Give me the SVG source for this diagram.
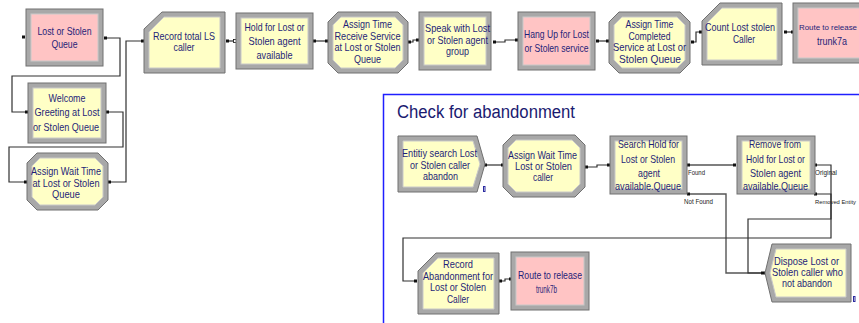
<svg xmlns="http://www.w3.org/2000/svg" width="859" height="323" viewBox="0 0 859 323">
  <style>
    .bevel { fill: #a8a8a8; stroke: #707070; stroke-width: 1; }
    .yel { fill: #ffffc6; stroke: #c9c9c9; stroke-width: 1; }
    .pink { fill: #ffc4c4; stroke: #c9c9c9; stroke-width: 1; }
    .lbl { font-family: "Liberation Sans", Arial, sans-serif; font-size: 10.5px; fill: #1e1e78; text-anchor: middle; }
    .port-lbl { font-family: "Liberation Sans", Arial, sans-serif; font-size: 7px; fill: #222; }
    .title { font-family: "Liberation Sans", Arial, sans-serif; font-size: 18px; fill: #1a1a70; }
    .wire { fill: none; stroke: #303030; stroke-width: 1.2; }
    .wire2 { fill: none; stroke: #555; stroke-width: 1.4; }
    .port { fill: #111; }
    .cnt { fill: none; stroke: #2a2aa0; stroke-width: 1; }
  </style>

  <!-- submodel frame -->
  <g id="frame-check">
    <rect x="383.5" y="94.5" width="490" height="240" fill="none" stroke="#1f1fff" stroke-width="1.5"/>
    <text class="title" x="397" y="118" textLength="178" lengthAdjust="spacingAndGlyphs">Check for abandonment</text>
  </g>

  <!-- connectors -->
  <g id="connectors">
    <polyline class="wire" points="105,38 120,38 120,76 12,76 12,112 27,112"/>
    <polyline class="wire" points="107,112 123,112 123,147 9,147 9,182 26,182"/>
    <polyline class="wire" points="109,182 126,182 126,41 143,41"/>
    <polyline class="wire" points="227,41 235,41"/>
    <polyline class="wire" points="315,41 326,41"/>
    <polyline class="wire" points="409,42 413,42 413,40 418,40"/>
    <polyline class="wire" points="493,42 505,42 505,40 516,40"/>
    <polyline class="wire" points="597,41 607,41"/>
    <polyline class="wire" points="692,42 696,42 696,32 701,32"/>
    <polyline class="wire" points="784,32 792,32"/>

    <polyline class="wire" points="485,165 502,165"/>
    <polyline class="wire" points="586,167 597,167 597,165 609,165"/>
    <polyline class="wire2" points="688,165 735,165"/>
    <polyline class="wire2" points="688,194 726,194 726,273 763,273"/>
    <polyline class="wire" points="816,165 831,165 831,219 748,219 748,273 763,273"/>
    <polyline class="wire" points="816,194 831,194 831,238 403,238 403,281 416,281"/>
    <polyline class="wire" points="500,281 505,281 505,279 510,279"/>

    <!-- ports -->
    <rect class="port" x="22" y="35.5" width="3" height="3"/>
    <rect class="port" x="104" y="36.5" width="3" height="3"/>
    <rect class="port" x="25" y="110.5" width="3" height="3"/>
    <rect class="port" x="106" y="110.5" width="3" height="3"/>
    <rect class="port" x="24" y="180.5" width="3" height="3"/>
    <rect class="port" x="108" y="180.5" width="3" height="3"/>
    <rect class="port" x="141" y="39.5" width="3" height="3"/>
    <rect class="port" x="226" y="39.5" width="3" height="3"/>
    <rect x="233.5" y="39.5" width="3" height="3" fill="#fff" stroke="#111" stroke-width="0.8"/>
    <rect class="port" x="313" y="39.5" width="3" height="3"/>
    <rect class="port" x="325" y="39.5" width="3" height="3"/>
    <rect class="port" x="408" y="40.5" width="3" height="3"/>
    <rect class="port" x="416" y="38.5" width="3" height="3"/>
    <rect class="port" x="493" y="40.5" width="3" height="3"/>
    <rect class="port" x="515" y="38.5" width="3" height="3"/>
    <rect class="port" x="596" y="39.5" width="3" height="3"/>
    <rect class="port" x="606" y="39.5" width="3" height="3"/>
    <rect class="port" x="691" y="40.5" width="3" height="3"/>
    <rect class="port" x="699" y="30.5" width="3" height="3"/>
    <rect class="port" x="784" y="30.5" width="3" height="3"/>
    <rect class="port" x="791" y="30.5" width="3" height="3"/>

    <rect class="port" x="484" y="163.5" width="3" height="3"/>
    <rect class="port" x="501" y="163.5" width="3" height="3"/>
    <rect class="port" x="585" y="165.5" width="3" height="3"/>
    <rect class="port" x="607" y="163.5" width="3" height="3"/>
    <rect class="port" x="687" y="163.5" width="3" height="3"/>
    <rect class="port" x="733" y="163.5" width="3" height="3"/>
    <rect class="port" x="687" y="192.5" width="3" height="3"/>
    <rect class="port" x="814" y="163.5" width="3" height="3"/>
    <rect class="port" x="814" y="192.5" width="3" height="3"/>
    <rect class="port" x="761" y="271.5" width="4" height="3"/>
    <rect class="port" x="414" y="279.5" width="3" height="3"/>
    <rect class="port" x="499" y="279.5" width="3" height="3"/>
    <rect class="port" x="509" y="277.5" width="3" height="3"/>

    <text class="port-lbl" x="688" y="175" textLength="17" lengthAdjust="spacingAndGlyphs">Found</text>
    <text class="port-lbl" x="684" y="204" textLength="29" lengthAdjust="spacingAndGlyphs">Not Found</text>
    <text class="port-lbl" x="815" y="175" textLength="22" lengthAdjust="spacingAndGlyphs">Original</text>
    <text class="port-lbl" x="815" y="204" style="font-size:6px" textLength="41" lengthAdjust="spacingAndGlyphs">Removed Entity</text>
  </g>

  <!-- main flow -->
  <g id="lost-stolen-queue">
    <rect class="bevel" x="26" y="9" width="77" height="57"/>
    <rect class="pink" x="31" y="14" width="67" height="47"/>
    <text class="lbl" x="64.5" y="35" textLength="54" lengthAdjust="spacingAndGlyphs">Lost or Stolen</text>
    <text class="lbl" x="64.5" y="48" textLength="26" lengthAdjust="spacingAndGlyphs">Queue</text>
  </g>

  <g id="welcome-greeting">
    <rect class="bevel" x="28" y="83" width="78" height="60"/>
    <rect class="yel" x="33" y="88" width="68" height="50"/>
    <text class="lbl" x="67" y="102" textLength="37" lengthAdjust="spacingAndGlyphs">Welcome</text>
    <text class="lbl" x="67" y="116" textLength="65" lengthAdjust="spacingAndGlyphs">Greeting  at Lost</text>
    <text class="lbl" x="66" y="131" textLength="66" lengthAdjust="spacingAndGlyphs">or Stolen Queue</text>
  </g>

  <g id="assign-wait-time">
    <polygon class="bevel" points="37,153 98,153 108,163 108,200 98,210 37,210 27,200 27,163"/>
    <polygon class="yel" points="40,158 95,158 103,166 103,197 95,205 40,205 32,197 32,166"/>
    <text class="lbl" x="66" y="175" textLength="70" lengthAdjust="spacingAndGlyphs">Assign Wait Time</text>
    <text class="lbl" x="66" y="187" textLength="67" lengthAdjust="spacingAndGlyphs">at Lost or Stolen</text>
    <text class="lbl" x="66" y="198" textLength="28" lengthAdjust="spacingAndGlyphs">Queue</text>
  </g>

  <g id="record-total-ls">
    <polygon class="bevel" points="162,12 225,12 225,73 144,73 144,29"/>
    <polygon class="yel" points="164,17 220,17 220,68 149,68 149,32"/>
    <text class="lbl" x="184" y="40" textLength="62" lengthAdjust="spacingAndGlyphs">Record total LS</text>
    <text class="lbl" x="184" y="51" textLength="21" lengthAdjust="spacingAndGlyphs">caller</text>
  </g>

  <g id="hold-lost-stolen">
    <rect class="bevel" x="236" y="13" width="77" height="56"/>
    <rect class="yel" x="241" y="18" width="67" height="46"/>
    <text class="lbl" x="274.5" y="31" textLength="60" lengthAdjust="spacingAndGlyphs">Hold for Lost or</text>
    <text class="lbl" x="274.5" y="45" textLength="52" lengthAdjust="spacingAndGlyphs">Stolen agent</text>
    <text class="lbl" x="274.5" y="59" textLength="36" lengthAdjust="spacingAndGlyphs">available</text>
  </g>

  <g id="assign-time-receive">
    <polygon class="bevel" points="338,12 398,12 408,22 408,63 398,73 338,73 328,63 328,22"/>
    <polygon class="yel" points="341,17 395,17 403,25 403,60 395,68 341,68 333,60 333,25"/>
    <text class="lbl" x="367.5" y="28" textLength="49" lengthAdjust="spacingAndGlyphs">Assign Time</text>
    <text class="lbl" x="367.5" y="40" textLength="66" lengthAdjust="spacingAndGlyphs">Receive Service</text>
    <text class="lbl" x="367.5" y="51" textLength="66" lengthAdjust="spacingAndGlyphs">at Lost or Stolen</text>
    <text class="lbl" x="367.5" y="63" textLength="27" lengthAdjust="spacingAndGlyphs">Queue</text>
  </g>

  <g id="speak-agent">
    <rect class="bevel" x="419" y="12" width="72" height="58"/>
    <rect class="yel" x="424" y="17" width="62" height="48"/>
    <text class="lbl" x="457.5" y="32" textLength="65" lengthAdjust="spacingAndGlyphs">Speak with Lost</text>
    <text class="lbl" x="457.5" y="44" textLength="61" lengthAdjust="spacingAndGlyphs">or Stolen agent</text>
    <text class="lbl" x="457.5" y="55" textLength="23" lengthAdjust="spacingAndGlyphs">group</text>
  </g>

  <g id="hang-up">
    <rect class="bevel" x="518" y="12" width="77" height="58"/>
    <rect class="pink" x="523" y="17" width="67" height="48"/>
    <text class="lbl" x="556.5" y="38" textLength="65" lengthAdjust="spacingAndGlyphs">Hang Up for Lost</text>
    <text class="lbl" x="556.5" y="52" textLength="64" lengthAdjust="spacingAndGlyphs">or Stolen service</text>
  </g>

  <g id="assign-time-completed">
    <polygon class="bevel" points="619,12 680,12 690,22 690,63 680,73 619,73 609,63 609,22"/>
    <polygon class="yel" points="622,17 677,17 685,25 685,60 677,68 622,68 614,60 614,25"/>
    <text class="lbl" x="649.5" y="28" textLength="48" lengthAdjust="spacingAndGlyphs">Assign Time</text>
    <text class="lbl" x="649.5" y="40" textLength="42" lengthAdjust="spacingAndGlyphs">Completed</text>
    <text class="lbl" x="649.5" y="51" textLength="73" lengthAdjust="spacingAndGlyphs">Service at Lost or</text>
    <text class="lbl" x="650" y="63" textLength="62" lengthAdjust="spacingAndGlyphs">Stolen Queue</text>
  </g>

  <g id="count-lost-stolen">
    <polygon class="bevel" points="720,3 782,3 782,65 702,65 702,21"/>
    <polygon class="yel" points="722,8 777,8 777,60 707,60 707,23"/>
    <text class="lbl" x="740" y="31" textLength="70" lengthAdjust="spacingAndGlyphs">Count Lost stolen</text>
    <text class="lbl" x="744" y="43" textLength="22" lengthAdjust="spacingAndGlyphs">Caller</text>
  </g>

  <g id="route-trunk7a">
    <rect class="bevel" x="793" y="3" width="78" height="60"/>
    <rect class="pink" x="798" y="8" width="68" height="50"/>
    <text class="lbl" x="828" y="30" style="font-size:8px" textLength="58" lengthAdjust="spacingAndGlyphs">Route to release</text>
    <text class="lbl" x="832" y="45" textLength="30" lengthAdjust="spacingAndGlyphs">trunk7a</text>
  </g>

  <!-- abandonment check -->
  <g id="entity-search">
    <polygon class="bevel" points="398,136 477,136 485,164 477,192 398,192"/>
    <polygon class="yel" points="403,141 473,141 480,164 473,187 403,187"/>
    <text class="lbl" x="439.5" y="157" textLength="75" lengthAdjust="spacingAndGlyphs">Entitiy search Lost</text>
    <text class="lbl" x="440" y="169" textLength="60" lengthAdjust="spacingAndGlyphs">or Stolen caller</text>
    <text class="lbl" x="440.5" y="180" textLength="35" lengthAdjust="spacingAndGlyphs">abandon</text>
    <rect class="cnt" x="483.5" y="186.5" width="1.5" height="5"/>
  </g>

  <g id="assign-wait-caller">
    <polygon class="bevel" points="513,135 575,135 585,145 585,187 575,197 513,197 503,187 503,145"/>
    <polygon class="yel" points="516,140 572,140 580,148 580,184 572,192 516,192 508,184 508,148"/>
    <text class="lbl" x="542.5" y="159" textLength="69" lengthAdjust="spacingAndGlyphs">Assign Wait Time</text>
    <text class="lbl" x="543.5" y="170" textLength="57" lengthAdjust="spacingAndGlyphs">Lost or Stolen</text>
    <text class="lbl" x="543" y="181" textLength="20" lengthAdjust="spacingAndGlyphs">caller</text>
  </g>

  <g id="search-hold">
    <rect class="bevel" x="610" y="136" width="77" height="58"/>
    <rect class="yel" x="615" y="141" width="67" height="48"/>
    <text class="lbl" x="648.5" y="148" textLength="61" lengthAdjust="spacingAndGlyphs">Search Hold for</text>
    <text class="lbl" x="648" y="163" textLength="54" lengthAdjust="spacingAndGlyphs">Lost or Stolen</text>
    <text class="lbl" x="649" y="177" textLength="22" lengthAdjust="spacingAndGlyphs">agent</text>
    <text class="lbl" x="648" y="190" textLength="66" lengthAdjust="spacingAndGlyphs">available.Queue</text>
  </g>

  <g id="remove-from-hold">
    <rect class="bevel" x="737" y="136" width="78" height="58"/>
    <rect class="yel" x="742" y="141" width="68" height="48"/>
    <text class="lbl" x="775" y="148" textLength="52" lengthAdjust="spacingAndGlyphs">Remove from</text>
    <text class="lbl" x="775.5" y="163" textLength="59" lengthAdjust="spacingAndGlyphs">Hold for Lost or</text>
    <text class="lbl" x="775.5" y="177" textLength="51" lengthAdjust="spacingAndGlyphs">Stolen agent</text>
    <text class="lbl" x="775.5" y="190" textLength="65" lengthAdjust="spacingAndGlyphs">available.Queue</text>
  </g>

  <g id="record-abandonment">
    <polygon class="bevel" points="436,253 499,253 499,314 418,314 418,271"/>
    <polygon class="yel" points="438,258 494,258 494,309 423,309 423,273"/>
    <text class="lbl" x="458" y="268" textLength="30" lengthAdjust="spacingAndGlyphs">Record</text>
    <text class="lbl" x="458" y="280" textLength="70" lengthAdjust="spacingAndGlyphs">Abandonment for</text>
    <text class="lbl" x="458" y="291" textLength="56" lengthAdjust="spacingAndGlyphs">Lost or Stolen</text>
    <text class="lbl" x="458" y="303" textLength="22" lengthAdjust="spacingAndGlyphs">Caller</text>
  </g>

  <g id="route-trunk7b">
    <rect class="bevel" x="511" y="252" width="78" height="58"/>
    <rect class="pink" x="516" y="257" width="68" height="48"/>
    <text class="lbl" x="550" y="279" textLength="64" lengthAdjust="spacingAndGlyphs">Route to release</text>
    <text class="lbl" x="546.5" y="293" textLength="21" lengthAdjust="spacingAndGlyphs">trunk7b</text>
  </g>

  <g id="dispose-not-abandon">
    <polygon class="bevel" points="772,244 851,244 851,302 772,302 765,273"/>
    <polygon class="yel" points="776,249 846,249 846,297 776,297 770,273"/>
    <text class="lbl" x="806.5" y="265" textLength="65" lengthAdjust="spacingAndGlyphs">Dispose Lost or</text>
    <text class="lbl" x="807.5" y="276" textLength="71" lengthAdjust="spacingAndGlyphs">Stolen caller who</text>
    <text class="lbl" x="807" y="287" textLength="50" lengthAdjust="spacingAndGlyphs">not abandon</text>
    <rect class="cnt" x="853.5" y="296.5" width="1.5" height="5"/>
  </g>
</svg>
